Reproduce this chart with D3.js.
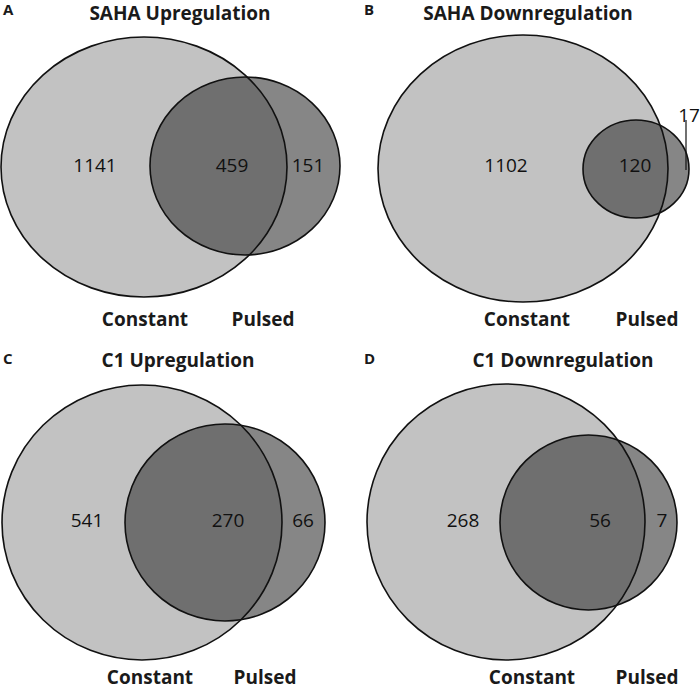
<!DOCTYPE html>
<html><head><meta charset="utf-8">
<script src="https://cdn.jsdelivr.net/npm/d3@7"></script>
<style>body{margin:0;background:#fff}svg{display:block}</style>
</head><body>
<script>
// ---- data ----
const panelLetters = ["A", "B", "C", "D"];
const panelTitles = ["SAHA Upregulation", "SAHA Downregulation", "C1 Upregulation", "C1 Downregulation"];
const setNames = ["Constant", "Pulsed"];
const constantOnly = [1141, 1102, 541, 268];
const overlapCount = [459, 120, 270, 56];
const pulsedOnly = [151, 17, 66, 7];

// ---- layout (pixels, per panel) ----
const W = 700, H = 689;
const layout = [
  {ox:0,   oy:0,   c:{cx:144,cy:167,rx:143,ry:130}, p:{cx:245,cy:166,rx:95,ry:89},
   letterX:3, titleX:180, titleY:20, numY:172, lblY:326, numX:[95,232,308], cX:145, pX:263},
  {ox:350, oy:0,   c:{cx:173,cy:168.5,rx:145,ry:133.5}, p:{cx:286,cy:169,rx:53,ry:49},
   letterX:14, titleX:178, titleY:20, numY:172, lblY:326, numX:[156,285,339], cX:177, pX:297, callout:true},
  {ox:0,   oy:345, c:{cx:142,cy:177.5,rx:140,ry:137.5}, p:{cx:225,cy:177.5,rx:100,ry:98.5},
   letterX:3, titleX:178, titleY:22, numY:182, lblY:339, numX:[87,228,303], cX:150, pX:265},
  {ox:350, oy:345, c:{cx:156,cy:177,rx:139,ry:138}, p:{cx:238.5,cy:177.5,rx:88.5,ry:87.5},
   letterX:14, titleX:213, titleY:22, numY:182, lblY:339, numX:[113,250,312], cX:182, pX:297}
];

const colLight = "#c2c2c2", colPulsed = "#868686", colOverlap = "#6f6f6f";
const fontFam = "'Open Sans', 'Liberation Sans', sans-serif";

const svg = d3.select("body").append("svg").attr("width", W).attr("height", H);
const defs = svg.append("defs");

panelTitles.forEach((title, i) => {
  const L = layout[i];
  const x = d3.scaleLinear().domain([0, 350]).range([L.ox, L.ox + 350]);
  const y = d3.scaleLinear().domain([0, 345]).range([L.oy, L.oy + 345]);
  const g = svg.append("g");

  defs.append("clipPath").attr("id", "clipC" + i)
    .append("ellipse")
    .attr("cx", x(L.c.cx)).attr("cy", y(L.c.cy)).attr("rx", L.c.rx).attr("ry", L.c.ry);

  g.append("ellipse").attr("cx", x(L.c.cx)).attr("cy", y(L.c.cy)).attr("rx", L.c.rx).attr("ry", L.c.ry)
    .attr("fill", colLight);
  g.append("ellipse").attr("cx", x(L.p.cx)).attr("cy", y(L.p.cy)).attr("rx", L.p.rx).attr("ry", L.p.ry)
    .attr("fill", colPulsed);
  g.append("ellipse").attr("cx", x(L.p.cx)).attr("cy", y(L.p.cy)).attr("rx", L.p.rx).attr("ry", L.p.ry)
    .attr("fill", colOverlap).attr("clip-path", `url(#clipC${i})`);
  g.append("ellipse").attr("cx", x(L.c.cx)).attr("cy", y(L.c.cy)).attr("rx", L.c.rx).attr("ry", L.c.ry)
    .attr("fill", "none").attr("stroke", "#111").attr("stroke-width", 1.6);
  g.append("ellipse").attr("cx", x(L.p.cx)).attr("cy", y(L.p.cy)).attr("rx", L.p.rx).attr("ry", L.p.ry)
    .attr("fill", "none").attr("stroke", "#111").attr("stroke-width", 1.6);

  g.append("text").attr("x", x(L.letterX)).attr("y", y(i < 2 ? 15 : 19))
    .attr("font-family", fontFam).attr("font-weight", 700).attr("font-size", 15).attr("fill", "#1a1a1a")
    .text(panelLetters[i]);
  g.append("text").attr("x", x(L.titleX)).attr("y", y(L.titleY))
    .attr("text-anchor", "middle").attr("font-family", fontFam).attr("font-weight", 700)
    .attr("font-size", 19).attr("fill", "#1a1a1a").text(title);

  const nums = [constantOnly[i], overlapCount[i], pulsedOnly[i]];
  nums.forEach((n, k) => {
    if (L.callout && k === 2) return;
    g.append("text").attr("x", x(L.numX[k])).attr("y", y(L.numY))
      .attr("text-anchor", "middle").attr("font-family", fontFam).attr("font-size", 19)
      .attr("fill", "#111").text(n);
  });
  if (L.callout) {
    g.append("text").attr("x", x(339)).attr("y", y(122))
      .attr("text-anchor", "middle").attr("font-family", fontFam).attr("font-size", 19)
      .attr("fill", "#111").text(pulsedOnly[i]);
    g.append("line").attr("x1", x(336)).attr("x2", x(336)).attr("y1", y(120)).attr("y2", y(170))
      .attr("stroke", "#111").attr("stroke-width", 1.2);
  }

  g.append("text").attr("x", x(L.cX)).attr("y", y(L.lblY))
    .attr("text-anchor", "middle").attr("font-family", fontFam).attr("font-weight", 700)
    .attr("font-size", 19).attr("fill", "#1a1a1a").text(setNames[0]);
  g.append("text").attr("x", x(L.pX)).attr("y", y(L.lblY))
    .attr("text-anchor", "middle").attr("font-family", fontFam).attr("font-weight", 700)
    .attr("font-size", 19).attr("fill", "#1a1a1a").text(setNames[1]);
});
</script>
</body></html>
